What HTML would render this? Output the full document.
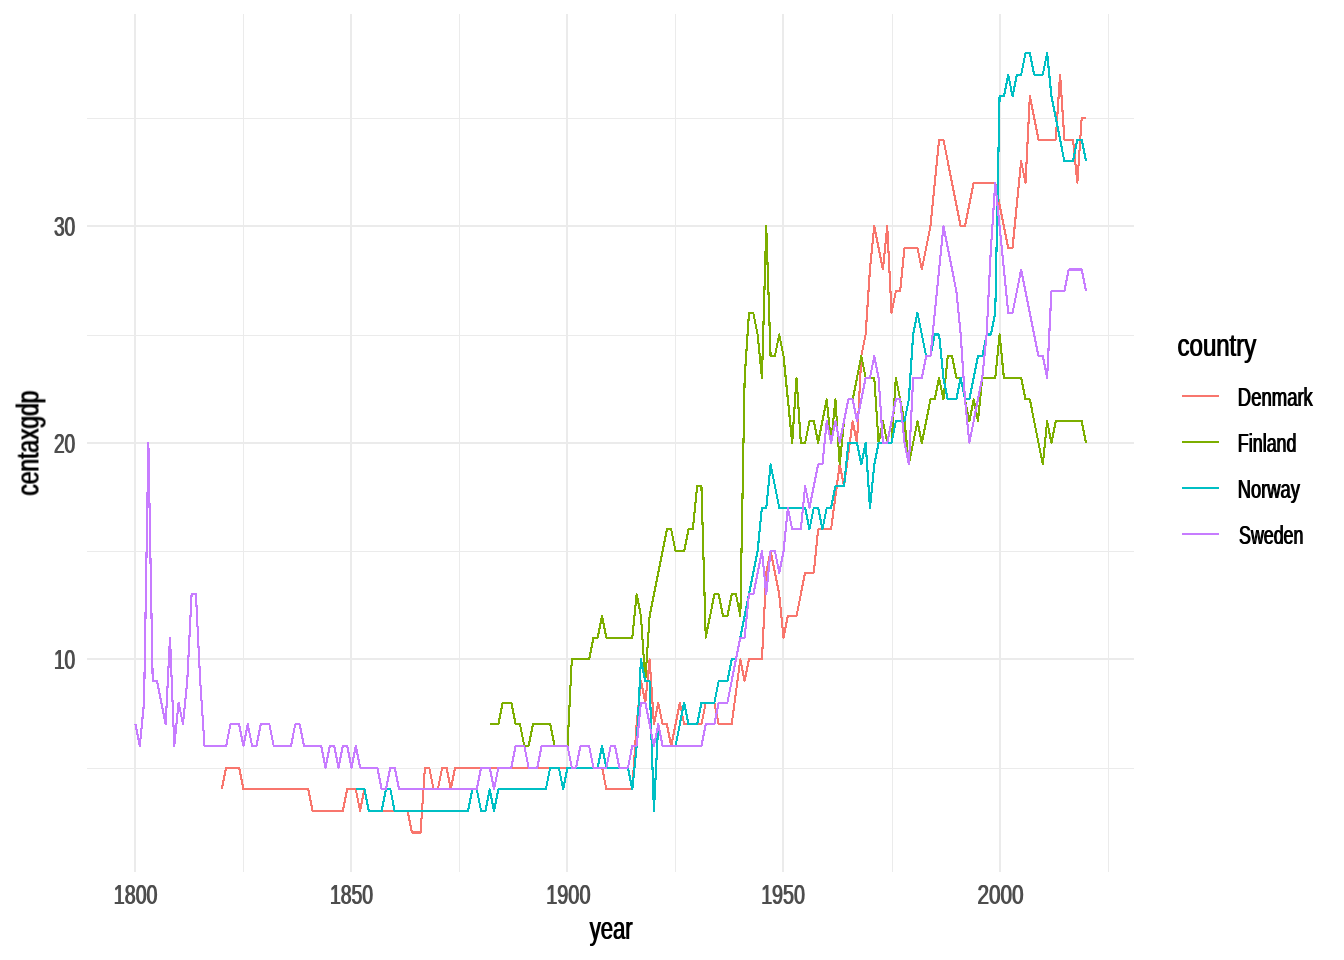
<!DOCTYPE html>
<html lang="en"><head><meta charset="utf-8"><title>centaxgdp by year</title>
<style>html,body{margin:0;padding:0;background:#fff;}svg{display:block}</style></head>
<body>
<svg width="1344" height="960" viewBox="0 0 1344 960">
<rect width="1344" height="960" fill="#ffffff"/>
<g stroke="#EBEBEB" stroke-width="1" fill="none" shape-rendering="crispEdges">
<line x1="87" x2="1134" y1="118.5" y2="118.5"/>
<line x1="87" x2="1134" y1="335.5" y2="335.5"/>
<line x1="87" x2="1134" y1="551.5" y2="551.5"/>
<line x1="87" x2="1134" y1="768.5" y2="768.5"/>
<line x1="243.5" x2="243.5" y1="14" y2="871.7"/>
<line x1="459.5" x2="459.5" y1="14" y2="871.7"/>
<line x1="675.5" x2="675.5" y1="14" y2="871.7"/>
<line x1="892.5" x2="892.5" y1="14" y2="871.7"/>
<line x1="1108.5" x2="1108.5" y1="14" y2="871.7"/>
</g>
<g stroke="#EBEBEB" stroke-width="2" fill="none" shape-rendering="crispEdges">
<line x1="87" x2="1134" y1="226" y2="226"/>
<line x1="87" x2="1134" y1="443" y2="443"/>
<line x1="87" x2="1134" y1="659" y2="659"/>
<line x1="135" x2="135" y1="14" y2="871.7"/>
<line x1="351" x2="351" y1="14" y2="871.7"/>
<line x1="567" x2="567" y1="14" y2="871.7"/>
<line x1="783" x2="783" y1="14" y2="871.7"/>
<line x1="1000" x2="1000" y1="14" y2="871.7"/>
</g>
<g fill="none" stroke-width="2.1" stroke-linejoin="round" stroke-linecap="butt" shape-rendering="crispEdges">
<polyline stroke="#F8766D" points="221.84,789.23 226.16,767.57 230.48,767.57 234.80,767.57 239.12,767.57 243.44,789.23 247.76,789.23 252.08,789.23 256.40,789.23 260.72,789.23 265.04,789.23 269.36,789.23 273.69,789.23 278.01,789.23 282.33,789.23 286.65,789.23 290.97,789.23 295.29,789.23 299.61,789.23 303.93,789.23 308.25,789.23 312.57,810.88 316.89,810.88 321.21,810.88 325.54,810.88 329.86,810.88 334.18,810.88 338.50,810.88 342.82,810.88 347.14,789.23 351.46,789.23 355.78,789.23 360.10,810.88 364.42,789.23 368.74,810.88 373.06,810.88 377.38,810.88 381.71,810.88 386.03,810.88 390.35,810.88 394.67,810.88 398.99,810.88 403.31,810.88 407.63,810.88 411.95,832.54 416.27,832.54 420.59,832.54 424.91,767.57 429.23,767.57 433.56,789.23 437.88,789.23 442.20,767.57 446.52,767.57 450.84,789.23 455.16,767.57 459.48,767.57 463.80,767.57 468.12,767.57 472.44,767.57 476.76,767.57 481.08,767.57 485.40,767.57 489.73,767.57 494.05,767.57 498.37,767.57 502.69,767.57 507.01,767.57 511.33,767.57 515.65,767.57 519.97,767.57 524.29,767.57 528.61,767.57 532.93,767.57 537.25,767.57 541.58,767.57 545.90,767.57 550.22,767.57 554.54,767.57 558.86,767.57 563.18,767.57 567.50,767.57 571.82,767.57 576.14,767.57 580.46,767.57 584.78,767.57 589.10,767.57 593.42,767.57 597.75,767.57 602.07,767.57 606.39,789.23 610.71,789.23 615.03,789.23 619.35,789.23 623.67,789.23 627.99,789.23 632.31,789.23 636.63,724.26 640.95,680.95 645.27,702.61 649.60,659.30 653.92,724.26 658.24,702.61 662.56,724.26 666.88,724.26 671.20,745.92 675.52,724.26 679.84,702.61 684.16,724.26 688.48,724.26 692.80,724.26 697.12,724.26 701.44,724.26 705.77,702.61 710.09,702.61 714.41,702.61 718.73,724.26 723.05,724.26 727.37,724.26 731.69,724.26 736.01,691.78 740.33,659.30 744.65,680.95 748.97,659.30 753.29,659.30 757.62,659.30 761.94,659.30 766.26,572.68 770.58,551.02 774.90,572.68 779.22,594.33 783.54,637.64 787.86,615.99 792.18,615.99 796.50,615.99 800.82,594.33 805.14,572.68 809.46,572.68 813.79,572.68 818.11,529.37 822.43,529.37 826.75,529.37 831.07,529.37 835.39,496.89 839.71,464.40 844.03,486.06 848.35,453.58 852.67,421.09 856.99,442.75 861.31,356.13 865.64,334.47 869.96,269.51 874.28,226.20 878.60,247.85 882.92,269.51 887.24,226.20 891.56,312.82 895.88,291.16 900.20,291.16 904.52,247.85 908.84,247.85 913.16,247.85 917.48,247.85 921.81,269.51 926.13,247.85 930.45,226.20 934.77,182.89 939.09,139.58 943.41,139.58 947.73,161.23 952.05,182.89 956.37,204.54 960.69,226.20 965.01,226.20 969.33,204.54 973.66,182.89 977.98,182.89 982.30,182.89 986.62,182.89 990.94,182.89 995.26,182.89 999.58,204.54 1003.90,226.20 1008.22,247.85 1012.54,247.85 1016.86,204.54 1021.18,161.23 1025.50,182.89 1029.83,96.27 1034.15,117.92 1038.47,139.58 1042.79,139.58 1047.11,139.58 1051.43,139.58 1055.75,139.58 1060.07,74.61 1064.39,139.58 1068.71,139.58 1073.03,139.58 1077.35,182.89 1081.68,117.92 1086.00,117.92"/>
<polyline stroke="#7CAE00" points="489.73,724.26 494.05,724.26 498.37,724.26 502.69,702.61 507.01,702.61 511.33,702.61 515.65,724.26 519.97,724.26 524.29,745.92 528.61,745.92 532.93,724.26 537.25,724.26 541.58,724.26 545.90,724.26 550.22,724.26 554.54,745.92 558.86,745.92 563.18,745.92 567.50,745.92 571.82,659.30 576.14,659.30 580.46,659.30 584.78,659.30 589.10,659.30 593.42,637.64 597.75,637.64 602.07,615.99 606.39,637.64 610.71,637.64 615.03,637.64 619.35,637.64 623.67,637.64 627.99,637.64 632.31,637.64 636.63,594.33 640.95,615.99 645.27,680.95 649.60,615.99 653.92,594.33 658.24,572.68 662.56,551.02 666.88,529.37 671.20,529.37 675.52,551.02 679.84,551.02 684.16,551.02 688.48,529.37 692.80,529.37 697.12,486.06 701.44,486.06 705.77,637.64 710.09,615.99 714.41,594.33 718.73,594.33 723.05,615.99 727.37,615.99 731.69,594.33 736.01,594.33 740.33,615.99 744.65,377.78 748.97,312.82 753.29,312.82 757.62,334.47 761.94,377.78 766.26,226.20 770.58,356.13 774.90,356.13 779.22,334.47 783.54,356.13 787.86,399.44 792.18,442.75 796.50,377.78 800.82,442.75 805.14,442.75 809.46,421.09 813.79,421.09 818.11,442.75 822.43,421.09 826.75,399.44 831.07,442.75 835.39,399.44 839.71,464.40 844.03,421.09 848.35,399.44 852.67,399.44 856.99,377.78 861.31,356.13 865.64,377.78 869.96,377.78 874.28,377.78 878.60,442.75 882.92,421.09 887.24,442.75 891.56,442.75 895.88,377.78 900.20,399.44 904.52,421.09 908.84,464.40 913.16,442.75 917.48,421.09 921.81,442.75 926.13,421.09 930.45,399.44 934.77,399.44 939.09,377.78 943.41,399.44 947.73,356.13 952.05,356.13 956.37,377.78 960.69,377.78 965.01,399.44 969.33,421.09 973.66,399.44 977.98,421.09 982.30,377.78 986.62,377.78 990.94,377.78 995.26,377.78 999.58,334.47 1003.90,377.78 1008.22,377.78 1012.54,377.78 1016.86,377.78 1021.18,377.78 1025.50,399.44 1029.83,399.44 1034.15,421.09 1038.47,442.75 1042.79,464.40 1047.11,421.09 1051.43,442.75 1055.75,421.09 1060.07,421.09 1064.39,421.09 1068.71,421.09 1073.03,421.09 1077.35,421.09 1081.68,421.09 1086.00,442.75"/>
<polyline stroke="#00BFC4" points="355.78,789.23 360.10,789.23 364.42,789.23 368.74,810.88 373.06,810.88 377.38,810.88 381.71,810.88 386.03,789.23 390.35,789.23 394.67,810.88 398.99,810.88 403.31,810.88 407.63,810.88 411.95,810.88 416.27,810.88 420.59,810.88 424.91,810.88 429.23,810.88 433.56,810.88 437.88,810.88 442.20,810.88 446.52,810.88 450.84,810.88 455.16,810.88 459.48,810.88 463.80,810.88 468.12,810.88 472.44,789.23 476.76,789.23 481.08,810.88 485.40,810.88 489.73,789.23 494.05,810.88 498.37,789.23 502.69,789.23 507.01,789.23 511.33,789.23 515.65,789.23 519.97,789.23 524.29,789.23 528.61,789.23 532.93,789.23 537.25,789.23 541.58,789.23 545.90,789.23 550.22,767.57 554.54,767.57 558.86,767.57 563.18,789.23 567.50,767.57 571.82,767.57 576.14,767.57 580.46,767.57 584.78,767.57 589.10,767.57 593.42,767.57 597.75,767.57 602.07,745.92 606.39,767.57 610.71,767.57 615.03,767.57 619.35,767.57 623.67,767.57 627.99,767.57 632.31,789.23 636.63,745.92 640.95,659.30 645.27,680.95 649.60,680.95 653.92,810.88 658.24,724.26 662.56,745.92 666.88,745.92 671.20,745.92 675.52,745.92 679.84,724.26 684.16,702.61 688.48,724.26 692.80,724.26 697.12,724.26 701.44,702.61 705.77,702.61 710.09,702.61 714.41,702.61 718.73,680.95 723.05,680.95 727.37,680.95 731.69,659.30 736.01,659.30 740.33,637.64 744.65,615.99 748.97,594.33 753.29,572.68 757.62,551.02 761.94,507.71 766.26,507.71 770.58,464.40 774.90,486.06 779.22,507.71 783.54,507.71 787.86,507.71 792.18,507.71 796.50,507.71 800.82,507.71 805.14,507.71 809.46,529.37 813.79,507.71 818.11,507.71 822.43,529.37 826.75,507.71 831.07,507.71 835.39,486.06 839.71,486.06 844.03,486.06 848.35,442.75 852.67,442.75 856.99,442.75 861.31,464.40 865.64,442.75 869.96,507.71 874.28,464.40 878.60,442.75 882.92,442.75 887.24,442.75 891.56,442.75 895.88,421.09 900.20,421.09 904.52,421.09 908.84,399.44 913.16,334.47 917.48,312.82 921.81,334.47 926.13,356.13 930.45,356.13 934.77,334.47 939.09,334.47 943.41,377.78 947.73,399.44 952.05,399.44 956.37,399.44 960.69,377.78 965.01,399.44 969.33,399.44 973.66,377.78 977.98,356.13 982.30,356.13 986.62,334.47 990.94,334.47 995.26,312.82 999.58,96.27 1003.90,96.27 1008.22,74.61 1012.54,96.27 1016.86,74.61 1021.18,74.61 1025.50,52.96 1029.83,52.96 1034.15,74.61 1038.47,74.61 1042.79,74.61 1047.11,52.96 1051.43,96.27 1055.75,117.92 1060.07,139.58 1064.39,161.23 1068.71,161.23 1073.03,161.23 1077.35,139.58 1081.68,139.58 1086.00,161.23"/>
<polyline stroke="#C77CFF" points="135.42,724.26 139.74,745.92 144.06,702.61 148.38,442.75 152.70,680.95 157.02,680.95 161.34,702.61 165.67,724.26 169.99,637.64 174.31,745.92 178.63,702.61 182.95,724.26 187.27,680.95 191.59,594.33 195.91,594.33 200.23,680.95 204.55,745.92 208.87,745.92 213.19,745.92 217.52,745.92 221.84,745.92 226.16,745.92 230.48,724.26 234.80,724.26 239.12,724.26 243.44,745.92 247.76,724.26 252.08,745.92 256.40,745.92 260.72,724.26 265.04,724.26 269.36,724.26 273.69,745.92 278.01,745.92 282.33,745.92 286.65,745.92 290.97,745.92 295.29,724.26 299.61,724.26 303.93,745.92 308.25,745.92 312.57,745.92 316.89,745.92 321.21,745.92 325.54,767.57 329.86,745.92 334.18,745.92 338.50,767.57 342.82,745.92 347.14,745.92 351.46,767.57 355.78,745.92 360.10,767.57 364.42,767.57 368.74,767.57 373.06,767.57 377.38,767.57 381.71,789.23 386.03,789.23 390.35,767.57 394.67,767.57 398.99,789.23 403.31,789.23 407.63,789.23 411.95,789.23 416.27,789.23 420.59,789.23 424.91,789.23 429.23,789.23 433.56,789.23 437.88,789.23 442.20,789.23 446.52,789.23 450.84,789.23 455.16,789.23 459.48,789.23 463.80,789.23 468.12,789.23 472.44,789.23 476.76,789.23 481.08,767.57 485.40,767.57 489.73,767.57 494.05,789.23 498.37,767.57 502.69,767.57 507.01,767.57 511.33,767.57 515.65,745.92 519.97,745.92 524.29,745.92 528.61,767.57 532.93,767.57 537.25,767.57 541.58,745.92 545.90,745.92 550.22,745.92 554.54,745.92 558.86,745.92 563.18,745.92 567.50,745.92 571.82,767.57 576.14,767.57 580.46,745.92 584.78,745.92 589.10,745.92 593.42,767.57 597.75,767.57 602.07,767.57 606.39,767.57 610.71,745.92 615.03,745.92 619.35,767.57 623.67,767.57 627.99,767.57 632.31,745.92 636.63,745.92 640.95,702.61 645.27,702.61 649.60,724.26 653.92,745.92 658.24,724.26 662.56,745.92 666.88,745.92 671.20,745.92 675.52,745.92 679.84,745.92 684.16,745.92 688.48,745.92 692.80,745.92 697.12,745.92 701.44,745.92 705.77,724.26 710.09,724.26 714.41,724.26 718.73,702.61 723.05,702.61 727.37,702.61 731.69,680.95 736.01,659.30 740.33,637.64 744.65,637.64 748.97,594.33 753.29,594.33 757.62,572.68 761.94,551.02 766.26,594.33 770.58,551.02 774.90,551.02 779.22,572.68 783.54,551.02 787.86,507.71 792.18,529.37 796.50,529.37 800.82,529.37 805.14,486.06 809.46,507.71 813.79,486.06 818.11,464.40 822.43,464.40 826.75,421.09 831.07,442.75 835.39,421.09 839.71,442.75 844.03,421.09 848.35,399.44 852.67,399.44 856.99,421.09 861.31,399.44 865.64,377.78 869.96,377.78 874.28,356.13 878.60,377.78 882.92,442.75 887.24,442.75 891.56,421.09 895.88,399.44 900.20,399.44 904.52,442.75 908.84,464.40 913.16,377.78 917.48,377.78 921.81,377.78 926.13,356.13 930.45,356.13 934.77,312.82 939.09,269.51 943.41,226.20 947.73,247.85 952.05,269.51 956.37,291.16 960.69,334.47 965.01,399.44 969.33,442.75 973.66,421.09 977.98,399.44 982.30,377.78 986.62,334.47 990.94,247.85 995.26,182.89 999.58,226.20 1003.90,269.51 1008.22,312.82 1012.54,312.82 1016.86,291.16 1021.18,269.51 1025.50,291.16 1029.83,312.82 1034.15,334.47 1038.47,356.13 1042.79,356.13 1047.11,377.78 1051.43,291.16 1055.75,291.16 1060.07,291.16 1064.39,291.16 1068.71,269.51 1073.03,269.51 1077.35,269.51 1081.68,269.51 1086.00,291.16"/>
</g>
<g fill="none" stroke-width="2.1" shape-rendering="crispEdges">
<line x1="1182" x2="1219" y1="396.0" y2="396.0" stroke="#F8766D"/>
<line x1="1182" x2="1219" y1="441.9" y2="441.9" stroke="#7CAE00"/>
<line x1="1182" x2="1219" y1="487.8" y2="487.8" stroke="#00BFC4"/>
<line x1="1182" x2="1219" y1="533.8" y2="533.8" stroke="#C77CFF"/>
</g>
<defs><filter id="bold" x="-5%" y="-20%" width="110%" height="140%"><feOffset dx="1.0" dy="0" result="o"/><feMerge><feMergeNode in="SourceGraphic"/><feMergeNode in="o"/></feMerge></filter><filter id="semi" x="-5%" y="-20%" width="110%" height="140%"><feOffset dx="0.5" dy="0" result="o"/><feMerge><feMergeNode in="SourceGraphic"/><feMergeNode in="o"/></feMerge></filter></defs>
<g font-family="Liberation Sans, Arial, sans-serif">
<text x="53.45" y="668.8" textLength="21.3" lengthAdjust="spacingAndGlyphs" font-size="27" fill="#4D4D4D" filter="url(#semi)">10</text>
<text x="53.45" y="452.8" textLength="21.3" lengthAdjust="spacingAndGlyphs" font-size="27" fill="#4D4D4D" filter="url(#semi)">20</text>
<text x="53.45" y="235.8" textLength="21.3" lengthAdjust="spacingAndGlyphs" font-size="27" fill="#4D4D4D" filter="url(#semi)">30</text>
<text x="113.35" y="903.8" textLength="43.6" lengthAdjust="spacingAndGlyphs" font-size="27" fill="#4D4D4D" filter="url(#semi)">1800</text>
<text x="329.45" y="903.8" textLength="43.2" lengthAdjust="spacingAndGlyphs" font-size="27" fill="#4D4D4D" filter="url(#semi)">1850</text>
<text x="545.75" y="903.8" textLength="44.2" lengthAdjust="spacingAndGlyphs" font-size="27" fill="#4D4D4D" filter="url(#semi)">1900</text>
<text x="760.65" y="903.8" textLength="43.8" lengthAdjust="spacingAndGlyphs" font-size="27" fill="#4D4D4D" filter="url(#semi)">1950</text>
<text x="976.95" y="903.8" textLength="46.2" lengthAdjust="spacingAndGlyphs" font-size="27" fill="#4D4D4D" filter="url(#semi)">2000</text>
<text x="589.20" y="938.7" textLength="43" lengthAdjust="spacingAndGlyphs" font-size="32" fill="#000" filter="url(#bold)">year</text>
<g transform="translate(38.5,495.6) rotate(-90)"><text x="-0.50" y="0" textLength="105" lengthAdjust="spacingAndGlyphs" font-size="32" fill="#000" filter="url(#bold)">centaxgdp</text></g>
<text x="1177.00" y="356" textLength="78.8" lengthAdjust="spacingAndGlyphs" font-size="32" fill="#000" filter="url(#bold)">country</text>
<text x="1237.35" y="405.8" textLength="75.0" lengthAdjust="spacingAndGlyphs" font-size="25.1" fill="#000" filter="url(#semi)">Denmark</text>
<text x="1237.35" y="451.72" textLength="58.6" lengthAdjust="spacingAndGlyphs" font-size="25.1" fill="#000" filter="url(#semi)">Finland</text>
<text x="1237.35" y="497.64" textLength="62.0" lengthAdjust="spacingAndGlyphs" font-size="25.1" fill="#000" filter="url(#semi)">Norway</text>
<text x="1238.55" y="543.56" textLength="64.3" lengthAdjust="spacingAndGlyphs" font-size="25.1" fill="#000" filter="url(#semi)">Sweden</text>
</g>
</svg>
</body></html>
